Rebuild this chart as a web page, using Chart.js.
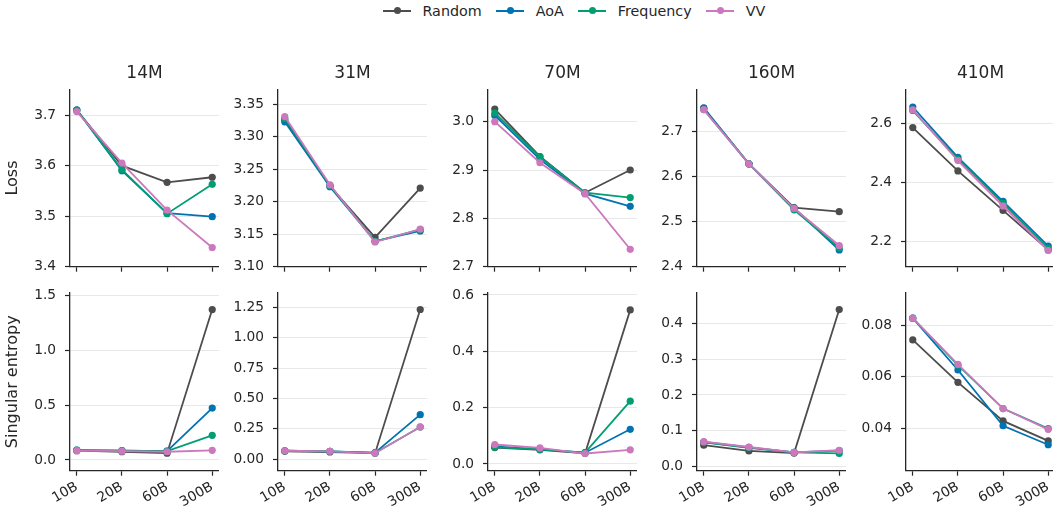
<!DOCTYPE html>
<html>
<head>
<meta charset="utf-8">
<script src="https://cdn.jsdelivr.net/npm/chart.js@4"></script>
<style>
  html, body { margin:0; padding:0; background:#fff; overflow:hidden; }
  body { width:1053px; height:514px; position:relative; font-family:"DejaVu Sans", sans-serif; color:#262626; }
  canvas { position:absolute; }
  #legend { position:absolute; left:383px; top:1px; display:flex; align-items:center; font-size:14.3px; height:19px; }
  .item { display:flex; align-items:center; margin-right:14.5px; }
  .mark { position:relative; width:28px; height:2px; margin-right:11.5px; }
  .mark span { position:absolute; left:11px; top:-2.5px; width:7px; height:7px; border-radius:50%; }
</style>
</head>
<body>
<div id="legend"></div>
<script>
const tokens = ['10B', '20B', '60B', '300B'];
const sizes = ['14M', '31M', '70M', '160M', '410M'];
const methods = ['Random', 'AoA', 'Frequency', 'VV'];
const colors = ['#4d4d4d', '#0173b2', '#029e73', '#cc78bc'];

// loss, one row per model size
const lossRandom = [
  [3.710, 3.600, 3.567, 3.577],
  [3.326, 3.224, 3.145, 3.221],
  [3.026, 2.928, 2.853, 2.900],
  [2.751, 2.628, 2.531, 2.522],
  [2.587, 2.440, 2.306, 2.172]
];
const lossAoA = [
  [3.710, 3.590, 3.506, 3.499],
  [3.323, 3.223, 3.139, 3.155],
  [3.013, 2.922, 2.851, 2.825],
  [2.752, 2.628, 2.530, 2.437],
  [2.657, 2.486, 2.337, 2.185]
];
const lossFrequency = [
  [3.710, 3.592, 3.505, 3.563],
  [3.328, 3.225, 3.139, 3.157],
  [3.018, 2.927, 2.853, 2.843],
  [2.748, 2.628, 2.526, 2.442],
  [2.645, 2.480, 2.330, 2.177]
];
const lossVV = [
  [3.707, 3.605, 3.512, 3.438],
  [3.331, 3.226, 3.138, 3.158],
  [3.000, 2.915, 2.851, 2.736],
  [2.748, 2.628, 2.529, 2.447],
  [2.647, 2.475, 2.321, 2.170]
];

// singular entropy
const entropyRandom = [
  [0.085, 0.075, 0.062, 1.373],
  [0.065, 0.060, 0.050, 1.232],
  [0.058, 0.050, 0.038, 0.547],
  [0.060, 0.044, 0.038, 0.438],
  [0.0743, 0.0578, 0.0428, 0.0350]
];
const entropyAoA = [
  [0.090, 0.085, 0.080, 0.474],
  [0.070, 0.065, 0.055, 0.367],
  [0.062, 0.052, 0.040, 0.123],
  [0.069, 0.054, 0.040, 0.045],
  [0.0828, 0.0626, 0.0409, 0.0335]
];
const entropyFrequency = [
  [0.090, 0.085, 0.080, 0.225],
  [0.070, 0.065, 0.052, 0.265],
  [0.060, 0.052, 0.040, 0.223],
  [0.068, 0.053, 0.040, 0.037],
  [0.0828, 0.0645, 0.0476, 0.0398]
];
const entropyVV = [
  [0.085, 0.080, 0.075, 0.088],
  [0.070, 0.065, 0.050, 0.266],
  [0.069, 0.057, 0.037, 0.050],
  [0.070, 0.055, 0.040, 0.046],
  [0.0828, 0.0648, 0.0476, 0.0395]
];

const lossTicks = [
  ['3.4', '3.5', '3.6', '3.7'],
  ['3.10', '3.15', '3.20', '3.25', '3.30', '3.35'],
  ['2.7', '2.8', '2.9', '3.0'],
  ['2.4', '2.5', '2.6', '2.7'],
  ['2.2', '2.4', '2.6']
];
const entropyTicks = [
  ['0.0', '0.5', '1.0', '1.5'],
  ['0.00', '0.25', '0.50', '0.75', '1.00', '1.25'],
  ['0.0', '0.2', '0.4', '0.6'],
  ['0.0', '0.1', '0.2', '0.3', '0.4'],
  ['0.04', '0.06', '0.08']
];
const lossLimits = [[3.4, 3.751], [3.10, 3.373], [2.7, 3.067], [2.4, 2.793], [2.115, 2.717]];
const entropyLimits = [[-0.098, 1.527], [-0.094, 1.37], [-0.024, 0.608], [-0.011, 0.485], [0.0234, 0.0927]];

// legend
const legend = document.getElementById('legend');
methods.forEach((m, i) => {
  legend.insertAdjacentHTML('beforeend',
    `<div class="item"><div class="mark" style="background:${colors[i]}"><span style="background:${colors[i]}"></span></div>${m}</div>`);
});

const INK = '#262626';
const FONT = '"DejaVu Sans", sans-serif';
const spineX = [70, 278, 488, 697, 906];

function makePanel(col, row){
  const top = row === 0;
  const series = top ? [lossRandom, lossAoA, lossFrequency, lossVV]
                     : [entropyRandom, entropyAoA, entropyFrequency, entropyVV];
  const tickLabels = top ? lossTicks[col] : entropyTicks[col];
  const lim = top ? lossLimits[col] : entropyLimits[col];

  const cv = document.createElement('canvas');
  const h = top ? 227 : 232;
  cv.width = 219; cv.height = h;
  cv.style.left = (spineX[col] - 70) + 'px';
  cv.style.top = (top ? 50 : 282) + 'px';
  document.body.appendChild(cv);

  const datasets = methods.map((m, i) => ({
    label: m,
    data: series[i][col].map((v, k) => ({x: k, y: v})),
    borderColor: colors[i],
    backgroundColor: colors[i],
    pointBackgroundColor: colors[i],
    pointBorderWidth: 0,
    pointRadius: 3.6,
    borderWidth: 1.8,
    order: 3 - i
  }));

  new Chart(cv, {
    type: 'line',
    data: {datasets},
    options: {
      responsive: false,
      animation: false,
      devicePixelRatio: 1,
      layout: {autoPadding: false, padding: {top: top ? 0 : 10.7, left: 0, right: 0, bottom: 0}},
      plugins: {
        legend: {display: false},
        tooltip: {enabled: false},
        title: {
          display: top,
          text: sizes[col],
          fullSize: false,
          color: INK,
          font: {family: FONT, size: 17, weight: 'normal'},
          padding: {top: 13.3, bottom: 5.6}
        }
      },
      scales: {
        x: {
          type: 'linear',
          min: -0.15, max: 3.15,
          afterBuildTicks: s => { s.ticks = tokens.map((t, k) => ({value: k})); },
          afterFit: s => {
            s.height = top ? 10.3 : 43.3;
            s.paddingLeft = 0; s.paddingRight = 0;
          },
          grid: {display: true, drawOnChartArea: false, drawTicks: true, tickLength: 5, tickColor: INK, tickWidth: 1.2},
          border: {display: true, color: INK, width: 1.3},
          ticks: {
            display: !top,
            autoSkip: false,
            minRotation: 30, maxRotation: 30,
            padding: 3,
            color: INK,
            font: {family: FONT, size: 13.75},
            callback: v => tokens[v]
          }
        },
        y: {
          type: 'linear',
          min: lim[0], max: lim[1],
          afterBuildTicks: s => { s.ticks = tickLabels.map(t => ({value: parseFloat(t)})); },
          afterFit: s => {
            s.width = 70;
            s.paddingTop = 0; s.paddingBottom = 0;
          },
          grid: {color: '#e8e8e8', lineWidth: 1, drawTicks: true, tickLength: 5, tickColor: INK, tickWidth: 1.2},
          border: {display: true, color: INK, width: 1.3},
          ticks: {
            padding: 9,
            color: INK,
            font: {family: FONT, size: 13.75},
            callback: (v, idx) => tickLabels[idx]
          },
          title: {
            display: col === 0,
            text: top ? 'Loss' : 'Singular entropy',
            color: INK,
            font: {family: FONT, size: 16},
            padding: {top: 3, bottom: 0}
          }
        }
      }
    }
  });
}

for (let r = 0; r < 2; r++) {
  for (let c = 0; c < 5; c++) makePanel(c, r);
}
</script>
</body>
</html>
